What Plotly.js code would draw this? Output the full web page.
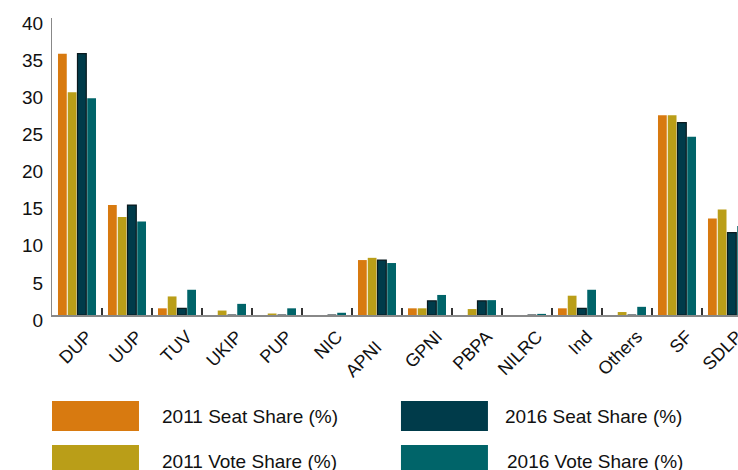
<!DOCTYPE html>
<html>
<head>
<meta charset="utf-8">
<script src="https://cdn.plot.ly/plotly-3.0.1.min.js"></script>
<style>
html,body{margin:0;padding:0;background:#fff;}
#chart{width:738px;height:470px;}
</style>
</head>
<body>
<div id="chart"></div>
<script>
const parties = ["DUP","UUP","TUV","UKIP","PUP","NIC","APNI","GPNI","PBPA","NILRC","Ind","Others","SF","SDLP"];
// tick labels as drawn (the reference's APNI label sits lower, as if padded)
const tickLabels = ["DUP","UUP","TUV","UKIP","PUP","NIC","APNI\u00a0\u00a0\u00a0","GPNI","PBPA","NILRC","Ind","Others","SF","SDLP"];
const seat2011 = [35.2,14.8,0.9,0,0,0,7.4,0.9,0,0,0.9,0,26.9,13.0];
const vote2011 = [30.0,13.2,2.5,0.6,0.2,0,7.7,0.9,0.8,0,2.6,0.4,26.9,14.2];
const seat2016 = [35.2,14.8,0.9,0,0,0,7.4,1.9,1.9,0,0.9,0,25.9,11.1];
const vote2016 = [29.2,12.6,3.4,1.5,0.9,0.3,7.0,2.7,2.0,0.15,3.4,1.1,24.0,12.0];
const seriesNames = ["2011 Seat Share (%)","2011 Vote Share (%)","2016 Seat Share (%)","2016 Vote Share (%)"];
const colors = ["#D87A10","#BA9E18","#003B4A","#006469"];

const FONT = "Liberation Sans, Arial, Helvetica, sans-serif";
const seriesData = [seat2011, vote2011, seat2016, vote2016];
const traces = seriesData.map((vals, i) => ({
  type: "bar",
  name: seriesNames[i],
  x: parties,
  y: vals,
  marker: {
    color: colors[i],
    line: i === 2 ? {color: "#0a1a1f", width: 1.2} : {width: 0}
  },
  showlegend: false
}));

// custom legend (large swatches) built from names/colors
const legPos = [
  {x0: 0, y0: -0.2896, tx: 0.1574, ty: -0.3434},
  {x0: 0, y0: -0.4377, tx: 0.1574, ty: -0.4949},
  {x0: 0.5087, y0: -0.2896, tx: 0.6574, ty: -0.3434},
  {x0: 0.5087, y0: -0.4377, tx: 0.6603, ty: -0.4949}
];
const shapes = legPos.map((p, i) => ({
  type: "rect", xref: "paper", yref: "paper",
  x0: p.x0, x1: p.x0 + 0.1268, y0: p.y0, y1: p.y0 - 0.101,
  fillcolor: colors[i], line: {width: 0}
}));
const annotations = legPos.map((p, i) => ({
  xref: "paper", yref: "paper", x: p.tx, y: p.ty,
  xanchor: "left", yanchor: "middle", showarrow: false,
  text: seriesNames[i], font: {family: FONT, size: 19, color: "#111"}
}));

const layout = {
  width: 738, height: 470,
  margin: {l: 52, r: 0, t: 18, b: 155},
  paper_bgcolor: "#fff", plot_bgcolor: "#fff",
  barmode: "group", bargap: 0.22, bargroupgap: 0.1,
  font: {family: FONT, color: "#111"},
  xaxis: {
    type: "category",
    range: [-0.5, 13.22],
    tickmode: "array", tickvals: parties, ticktext: tickLabels,
    showgrid: false, zeroline: false,
    showline: true, linecolor: "#888", linewidth: 2,
    ticks: "inside", tickson: "boundaries", ticklen: 7, tickwidth: 1.5, tickcolor: "#333",
    tickangle: -45, tickfont: {family: FONT, size: 18, color: "#111"},
    ticklabelshift: 10, ticklabelstandoff: 2
  },
  yaxis: {
    range: [0, 40], tickvals: [0,5,10,15,20,25,30,35,40],
    showgrid: false, zeroline: false,
    showline: true, linecolor: "#888", linewidth: 1,
    ticks: "", ticklabelstandoff: 4, ticklabelshift: 5,
    tickfont: {family: FONT, size: 19, color: "#111"}
  },
  shapes: shapes,
  annotations: annotations
};

Plotly.newPlot("chart", traces, layout, {displayModeBar: false, staticPlot: true});
</script>
</body>
</html>
